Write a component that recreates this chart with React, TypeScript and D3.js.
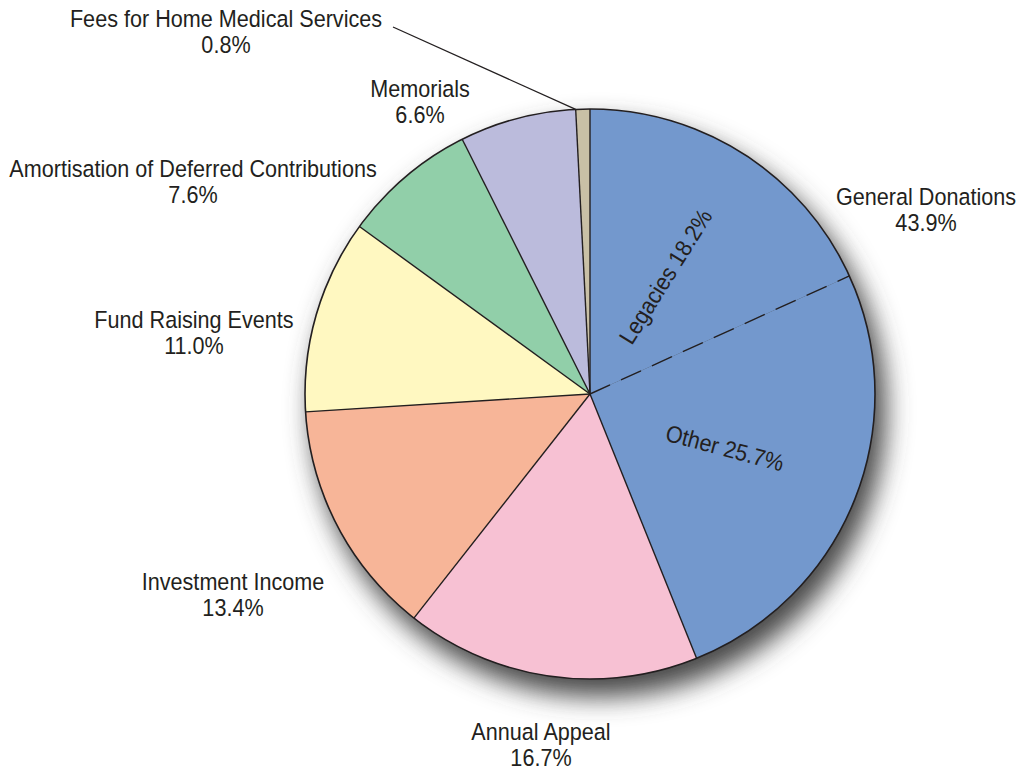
import React from "react";
import * as d3 from "d3";

const categories = [
  "Legacies",
  "Other",
  "Annual Appeal",
  "Investment Income",
  "Fund Raising Events",
  "Amortisation of Deferred Contributions",
  "Memorials",
  "Fees for Home Medical Services",
];
const values = [18.2, 25.7, 16.7, 13.4, 11.0, 7.6, 6.6, 0.8];
const colors = ["#7398CD", "#7398CD", "#F7C1D3", "#F7B598", "#FFF8C1", "#91CFA9", "#BBBBDC", "#C9C0A6"];

const outerLabels = [
  { name: "General Donations", pct: "43.9%", x: 926, y: 205 },
  { name: "Annual Appeal", pct: "16.7%", x: 541, y: 740 },
  { name: "Investment Income", pct: "13.4%", x: 233, y: 590 },
  { name: "Fund Raising Events", pct: "11.0%", x: 194, y: 328 },
  { name: "Amortisation of Deferred Contributions", pct: "7.6%", x: 193, y: 177 },
  { name: "Memorials", pct: "6.6%", x: 420, y: 97 },
  { name: "Fees for Home Medical Services", pct: "0.8%", x: 226, y: 27 },
];

const innerLabels = [
  { text: "Legacies 18.2%", idx: 0, r: 0.49, rot: -58 },
  { text: "Other 25.7%", idx: 1, r: 0.51, rot: 15 },
];

export default function App() {
  const W = 1022, H = 772;
  const cx = 590, cy = 394, R = 285;
  const pie = d3.pie<number>().sort(null).value((d) => d);
  const arcs = pie(values);
  const arcGen = d3.arc<d3.PieArcDatum<number>>().innerRadius(0).outerRadius(R);
  const font = "'Liberation Sans', Arial, sans-serif";
  const fs = 23.5;
  const sx = 0.92;
  const boundary = arcs[0].endAngle;
  const feesStart = arcs[7].startAngle;
  return (
    <svg width={W} height={H} style={{ position: "absolute", left: 0, top: 0, background: "#fff" }}>
      <defs>
        <filter id="sh" x="-30%" y="-30%" width="160%" height="160%">
          <feGaussianBlur stdDeviation="13" />
        </filter>
      </defs>
      <circle cx={cx + 9} cy={cy + 16} r={R + 2} fill="#4a4a4a" filter="url(#sh)" />
      <g transform={`translate(${cx},${cy})`}>
        {arcs.map((a, i) => (
          <path key={i} d={arcGen(a) || ""} fill={colors[i]} stroke="none" />
        ))}
        {arcs.map((a, i) => {
          if (i === 1) return null;
          const ang = a.startAngle;
          return (
            <line key={"b" + i} x1={0} y1={0} x2={R * Math.sin(ang)} y2={-R * Math.cos(ang)} stroke="#231F20" strokeWidth={1.4} />
          );
        })}
        <line x1={0} y1={0} x2={R * Math.sin(boundary)} y2={-R * Math.cos(boundary)} stroke="#231F20" strokeWidth={1.4} strokeDasharray="22 12" />
        <circle r={R} fill="none" stroke="#231F20" strokeWidth={1.6} />
        {innerLabels.map((l, k) => {
          const a = arcs[l.idx];
          const m = (a.startAngle + a.endAngle) / 2;
          const x = R * l.r * Math.sin(m);
          const y = -R * l.r * Math.cos(m);
          return (
            <text key={k} transform={`translate(${x},${y}) rotate(${l.rot}) scale(${sx},1)`} textAnchor="middle" dy="0.35em"
              fontFamily={font} fontSize={fs} fill="#231F20">{l.text}</text>
          );
        })}
      </g>
      <line x1={393} y1={27} x2={cx + R * Math.sin(feesStart)} y2={cy - R * Math.cos(feesStart)} stroke="#231F20" strokeWidth={1.3} />
      {outerLabels.map((l, k) => (
        <g key={k} transform={`translate(${l.x},${l.y}) scale(${sx},1)`}>
          <text textAnchor="middle" fontFamily={font} fontSize={fs} fill="#231F20">
            <tspan x={0} y={0}>{l.name}</tspan>
            <tspan x={0} y={26.5}>{l.pct}</tspan>
          </text>
        </g>
      ))}
    </svg>
  );
}
